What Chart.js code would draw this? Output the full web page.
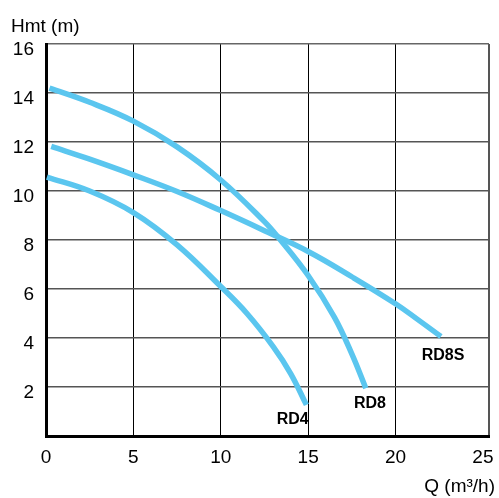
<!DOCTYPE html>
<html>
<head>
<meta charset="utf-8">
<script src="https://cdn.jsdelivr.net/npm/chart.js@4.4.1/dist/chart.umd.min.js"></script>
<style>
  html, body { margin: 0; padding: 0; background: #fff; }
  canvas { display: block; }
</style>
</head>
<body>
<canvas id="chart" width="499" height="498"></canvas>
<script>
/* Pump curves RD4 / RD8 / RD8S — Hmt (m) vs Q (m3/h). */

const xTicks = [0, 5, 10, 15, 20, 25];
const yTicks = [2, 4, 6, 8, 10, 12, 14, 16];
const X_MAX = 25.35; // last column is a bit wider than the others

const rd4Q = [0.05, 2.5, 5, 7.5, 10, 11.5, 13, 14, 14.9];
const rd4H = [10.57, 10.0, 9.12, 7.8, 6.1, 5.0, 3.65, 2.55, 1.27];

const rd8Q = [0.2, 2.5, 5, 7.5, 10, 12.5, 13.3, 15, 16.5, 17.5, 18.3];
const rd8H = [14.2, 13.62, 12.85, 11.8, 10.45, 8.75, 8.1, 6.55, 4.85, 3.35, 1.95];

const rd8sQ = [0.3, 2.5, 5, 7.5, 10, 12.5, 15, 17.5, 20, 21.3, 22.6];
const rd8sH = [11.82, 11.3, 10.66, 9.98, 9.2, 8.38, 7.53, 6.5, 5.4, 4.74, 4.06];

const curveNames = ["RD4", "RD8", "RD8S"];
const nameQ = [14.12, 18.54, 22.72];
const nameH = [0.69, 1.33, 3.27];

const CURVE_COLOR = "#5bc6ef";
Chart.defaults.font.family = "'Liberation Sans', Arial, sans-serif";
Chart.defaults.color = "#000";

function toPoints(qs, hs) {
  return qs.map((q, i) => ({ x: q, y: hs[i] }));
}

function curve(label, qs, hs) {
  return {
    label,
    data: toPoints(qs, hs),
    borderColor: CURVE_COLOR,
    backgroundColor: "transparent",
    borderWidth: 5.5,
    borderCapStyle: "butt",
    pointRadius: 0,
    tension: 0.4,
    fill: false,
  };
}

const textPlugin = {
  id: "texts",
  afterDraw(chart) {
    const { ctx } = chart;
    const { x, y } = chart.scales;
    ctx.save();
    ctx.fillStyle = "#000";
    ctx.font = "19px 'Liberation Sans', Arial, sans-serif";
    ctx.textBaseline = "alphabetic";
    ctx.textAlign = "left";
    ctx.fillText("Hmt (m)", 11, 32);
    ctx.textAlign = "right";
    ctx.fillText("Q (m³/h)", 495, 492);
    ctx.font = "bold 16px 'Liberation Sans', Arial, sans-serif";
    ctx.textAlign = "center";
    ctx.textBaseline = "middle";
    curveNames.forEach((name, i) => {
      ctx.fillText(name, x.getPixelForValue(nameQ[i]), y.getPixelForValue(nameH[i]));
    });
    ctx.restore();
  },
};

new Chart(document.getElementById("chart").getContext("2d"), {
  type: "line",
  data: {
    datasets: [
      curve("RD4", rd4Q, rd4H),
      curve("RD8", rd8Q, rd8H),
      curve("RD8S", rd8sQ, rd8sH),
    ],
  },
  options: {
    animation: false,
    responsive: false,
    devicePixelRatio: 1,
    layout: { padding: { top: 44, right: 3, left: 0, bottom: 0 } },
    plugins: { legend: { display: false }, tooltip: { enabled: false } },
    scales: {
      x: {
        type: "linear",
        min: 0,
        max: X_MAX,
        afterBuildTicks: (s) => { s.ticks = xTicks.concat([X_MAX]).map((v) => ({ value: v })); },
        afterFit: (s) => { s.height = 62; },
        ticks: {
          autoSkip: false,
          maxRotation: 0,
          padding: 10,
          font: { size: 19 },
          color: "#000",
          callback: (v) => (v === X_MAX ? "" : String(v)),
        },
        grid: {
          drawTicks: false,
          color: (c) => (c.tick.value === 25 ? "rgba(0,0,0,0)" : c.tick.value === X_MAX ? "#555" : "#000"),
          lineWidth: (c) => (c.tick.value === X_MAX ? 2 : 1),
        },
        border: { display: true, color: "#000", width: 3 },
      },
      y: {
        type: "linear",
        min: 0,
        max: 16,
        afterBuildTicks: (s) => { s.ticks = yTicks.map((v) => ({ value: v })); },
        afterFit: (s) => { s.width = 46; },
        ticks: {
          autoSkip: false,
          padding: 12,
          labelOffset: 6,
          font: { size: 19 },
          color: "#000",
        },
        grid: {
          drawTicks: false,
          color: (c) => (c.tick.value === 16 ? "#666" : "#555"),
          lineWidth: 1.5,
        },
        border: { display: true, color: "#000", width: 3 },
      },
    },
  },
  plugins: [textPlugin],
});
</script>
</body>
</html>
